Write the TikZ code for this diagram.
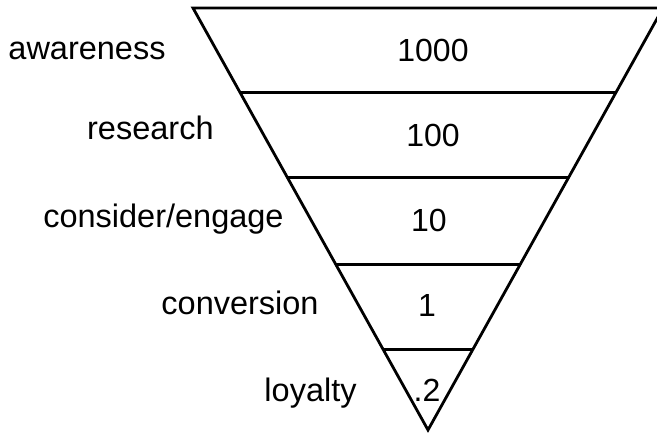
\documentclass[tikz,border=0pt]{standalone}
\usepackage{fontspec}
\setmainfont{Liberation Sans}
\usetikzlibrary{calc}

\tikzset{
  stage/.style={anchor=base east, inner sep=0pt, font=\fontsize{32.5}{38}\selectfont},
  count/.style={anchor=base, inner sep=0pt, font=\fontsize{32}{38}\selectfont},
}

\begin{document}
\begin{tikzpicture}[x=1pt, y=1pt, line width=2.8pt]
    \useasboundingbox (0,0) rectangle (657,436);
    \clip (0,0) rectangle (657,436);
    % funnel outline
    \coordinate (tl) at (193,428);
    \coordinate (tr) at (663,428);
    \coordinate (tip) at (428,6);
    \draw[line join=miter] (tl) -- (tr) -- (tip) -- cycle;
    % levels
    \foreach \t [count=\i] in {0.2,0.402,0.607,0.81} {
      \coordinate (l\i) at ($(tl)!\t!(tip)$);
      \coordinate (r\i) at ($(tr)!\t!(tip)$);
      \draw (l\i) -- (r\i);
    }
    % stage names
    \node[stage] (awareness) at (167,376) {awareness};
    \node[stage] (research) at (215,296) {research};
    \node[stage] (consider) at (285,208) {consider/engage};
    \node[stage] (conversion) at (320,121) {conversion};
    \node[stage] (loyalty) at (358,34) {loyalty};
    % counts
    \node[count] (n1000) at (433,374) {1000};
    \node[count] (n100) at (433,289) {100};
    \node[count] (n10) at (429,204) {10};
    \node[count] (n1) at (427,119) {1};
    \node[count] (n02) at (427,34) {.2};
  \end{tikzpicture}
\end{document}
